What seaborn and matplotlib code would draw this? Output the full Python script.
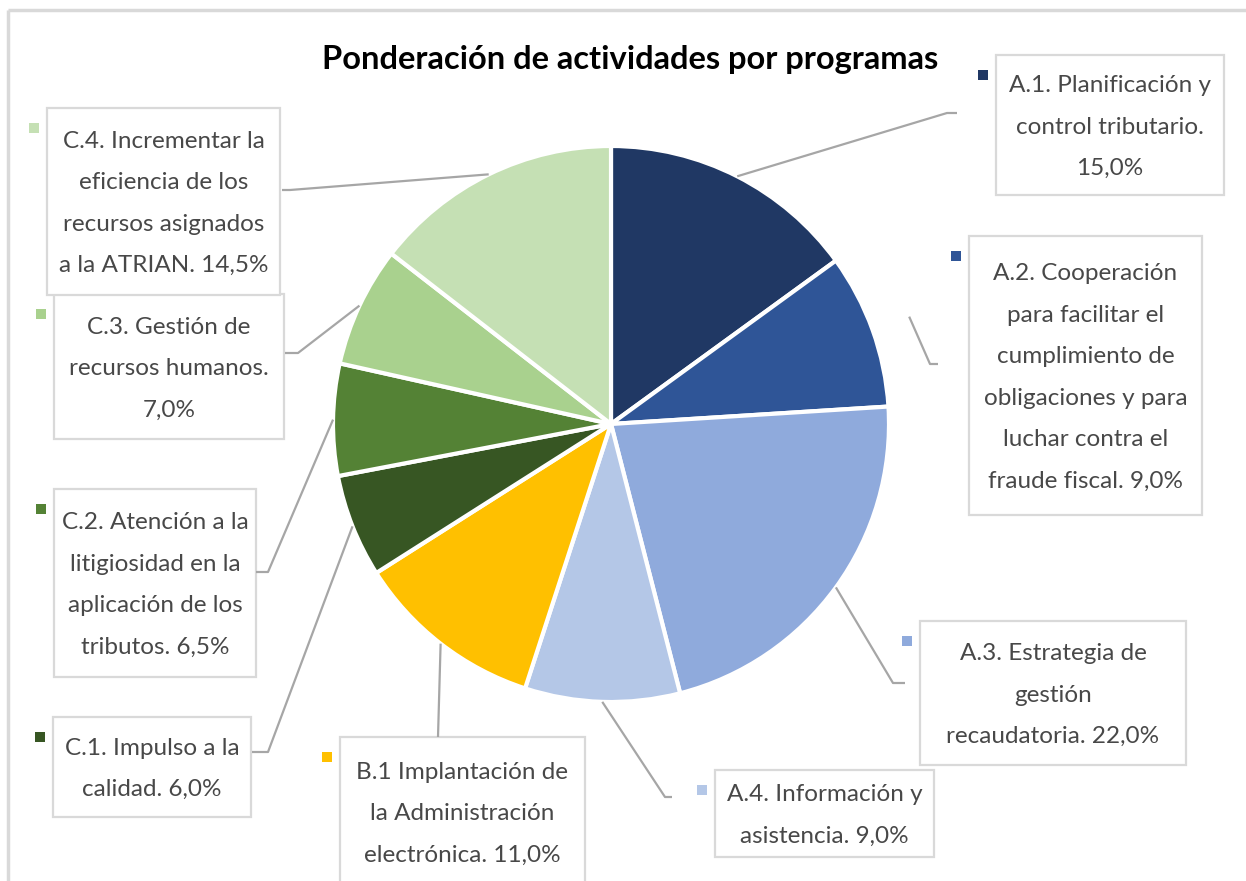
import numpy as np
import matplotlib
matplotlib.use('Agg')
import matplotlib.pyplot as plt
import seaborn as sns
from matplotlib.patches import Rectangle

# Data
labels = [
    'A.1. Planificación y\ncontrol tributario.\n15,0%',
    'A.2. Cooperación\npara facilitar el\ncumplimiento de\nobligaciones y para\nluchar contra el\nfraude fiscal. 9,0%',
    'A.3. Estrategia de\ngestión\nrecaudatoria. 22,0%',
    'A.4. Información y\nasistencia. 9,0%',
    'B.1 Implantación de\nla Administración\nelectrónica. 11,0%',
    'C.1. Impulso a la\ncalidad. 6,0%',
    'C.2. Atención a la\nlitigiosidad en la\naplicación de los\ntributos. 6,5%',
    'C.3. Gestión de\nrecursos humanos.\n7,0%',
    'C.4. Incrementar la\neficiencia de los\nrecursos asignados\na la ATRIAN. 14,5%',
]
values = [15.0, 9.0, 22.0, 9.0, 11.0, 6.0, 6.5, 7.0, 14.5]
colors = ['#203864', '#2F5597', '#8FAADC', '#B4C7E7', '#FFC000',
          '#375623', '#548235', '#A9D18E', '#C5E0B4']

# Layout (pixel coordinates, y downwards)
# label box: (left, top, right, bottom)
boxes = [
    (996, 55, 1224, 195),
    (969, 236, 1202, 515),
    (920, 621, 1186, 765),
    (715, 770, 934, 857),
    (340, 737, 585, 887),
    (53, 717, 251, 817),
    (54, 489, 256, 677),
    (54, 294, 284, 439),
    (47, 108, 280, 295),
]
# leader line: start radius factor, elbow, end
leaders = [
    (1.0, (947, 113), (957, 113)),
    (1.14, (930, 364), (938, 364)),
    (1.0, (893, 683), (905, 683)),
    (1.0, (665, 797), (672, 797)),
    (1.0, (438, 737), (438, 737)),
    (1.0, (268, 752), (252, 752)),
    (1.0, (268, 572), (256, 572)),
    (1.0, (298, 353), (285, 353)),
    (1.0, (290, 190), (282, 190)),
]
W, H = 1246, 881
cx, cy, R = 611, 424, 278

sns.set_theme(style='white')
plt.rcParams['font.family'] = ['Lato', 'DejaVu Sans']

fig = plt.figure(figsize=(W / 100, H / 100), dpi=100)
ax = fig.add_axes([0, 0, 1, 1])

# y axis is inverted, so counterclock=True looks clockwise on screen
wedges, _ = ax.pie(values, colors=colors, startangle=-90, counterclock=True,
                   center=(cx, cy), radius=R,
                   wedgeprops=dict(edgecolor='white', linewidth=3))
ax.set_xlim(0, W)
ax.set_ylim(H, 0)
ax.set_aspect('equal')
ax.axis('off')

# outer frame (only top and left visible)
ax.plot([8, W + 10], [10, 10], color='#D9D9D9', lw=2.5, solid_capstyle='butt')
ax.plot([8, 8], [10, H + 10], color='#D9D9D9', lw=2.5, solid_capstyle='butt')

ax.text(630, 60, 'Ponderación de actividades por programas', ha='center',
        va='center', fontsize=23.5, fontweight='bold', color='black')

for w, lab, col, box, (rf, elbow, end) in zip(wedges, labels, colors, boxes, leaders):
    ang = np.deg2rad((w.theta1 + w.theta2) / 2)
    sx = cx + R * rf * np.cos(ang)
    sy = cy + R * rf * np.sin(ang)
    ax.plot([sx, elbow[0], end[0]], [sy, elbow[1], end[1]], color='#A6A6A6',
            lw=1.6, solid_capstyle='butt')
    l, t, r, b = box
    ax.add_patch(Rectangle((l, t), r - l, b - t, facecolor='white',
                           edgecolor='#D9D9D9', lw=1.6))
    ax.add_patch(Rectangle((l - 18, t + 15), 10, 10, facecolor=col, edgecolor='none'))
    ax.text((l + r) / 2, (t + b) / 2 + 2, lab, ha='center', va='center',
            fontsize=17.5, color='#484848', linespacing=2.2)

fig.savefig('out.png', dpi=100)
